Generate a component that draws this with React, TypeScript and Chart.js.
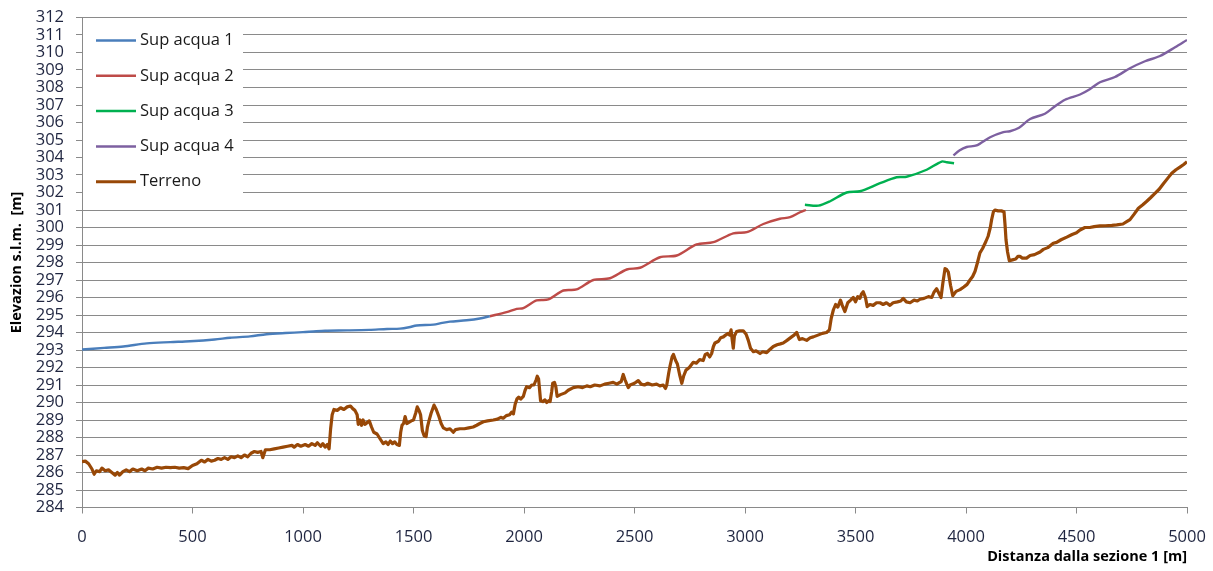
import React, { useEffect, useRef } from "react";
import { Chart, registerables } from "chart.js";

Chart.register(...registerables);

const seriesLabels = ["Sup acqua 1", "Sup acqua 2", "Sup acqua 3", "Sup acqua 4", "Terreno"];
const seriesColors = ["#4a7ebb", "#be4b48", "#00b050", "#7d60a0", "#984807"];

const acqua1X = [0, 100, 187, 293, 400, 489, 600, 670, 760, 835, 920, 1000, 1047, 1100, 1200, 1300, 1380, 1439, 1480, 1514, 1590, 1630, 1665, 1740, 1800, 1845];
const acqua1Y = [293.03, 293.12, 293.2, 293.38, 293.45, 293.5, 293.6, 293.7, 293.78, 293.9, 293.97, 294.02, 294.06, 294.1, 294.12, 294.15, 294.2, 294.22, 294.3, 294.4, 294.45, 294.55, 294.62, 294.7, 294.8, 294.93];

const acqua2X = [1845, 1921, 1967, 1997, 2057, 2110, 2178, 2238, 2314, 2389, 2465, 2525, 2615, 2691, 2781, 2857, 2947, 3008, 3083, 3158, 3204, 3249, 3276];
const acqua2Y = [294.93, 295.16, 295.35, 295.39, 295.83, 295.89, 296.4, 296.46, 297.0, 297.1, 297.6, 297.7, 298.3, 298.4, 299.03, 299.16, 299.67, 299.73, 300.2, 300.5, 300.59, 300.87, 301.0];

const acqua3X = [3271, 3332, 3385, 3460, 3520, 3611, 3686, 3731, 3822, 3890, 3913, 3946];
const acqua3Y = [301.3, 301.25, 301.5, 302.0, 302.07, 302.53, 302.87, 302.9, 303.3, 303.77, 303.73, 303.67];

const acqua4X = [3943, 3970, 4003, 4048, 4109, 4169, 4199, 4240, 4290, 4357, 4400, 4448, 4516, 4560, 4606, 4674, 4742, 4810, 4878, 4946, 5000];
const acqua4Y = [304.12, 304.4, 304.6, 304.69, 305.16, 305.45, 305.5, 305.7, 306.2, 306.5, 306.9, 307.3, 307.6, 307.9, 308.3, 308.6, 309.1, 309.5, 309.8, 310.3, 310.72];

const terrenoX = [0, 15, 30, 45, 55, 65, 80, 90, 105, 120, 135, 150, 160, 170, 185, 200, 215, 230, 250, 270, 285, 300, 320, 340, 360, 380, 400, 420, 440, 460, 480, 500, 520, 540, 555, 570, 585, 600, 615, 630, 645, 660, 675, 690, 705, 720, 735, 750, 765, 780, 795, 810, 818, 830, 850, 870, 890, 910, 930, 950, 960, 975, 990, 1010, 1025, 1040, 1055, 1065, 1080, 1090, 1100, 1110, 1118, 1125, 1132, 1140, 1155, 1170, 1185, 1200, 1215, 1225, 1235, 1245, 1250, 1258, 1265, 1272, 1280, 1290, 1300, 1310, 1320, 1335, 1350, 1363, 1375, 1385, 1395, 1405, 1415, 1425, 1436, 1442, 1448, 1455, 1462, 1470, 1477, 1490, 1500, 1510, 1517, 1525, 1532, 1540, 1548, 1557, 1563, 1570, 1580, 1593, 1603, 1615, 1625, 1635, 1650, 1665, 1680, 1690, 1710, 1730, 1750, 1770, 1786, 1800, 1816, 1835, 1861, 1880, 1895, 1906, 1920, 1935, 1944, 1952, 1960, 1968, 1976, 1985, 1997, 2005, 2012, 2025, 2035, 2045, 2055, 2060, 2066, 2070, 2075, 2085, 2095, 2103, 2112, 2118, 2125, 2130, 2138, 2144, 2150, 2165, 2186, 2200, 2223, 2245, 2265, 2284, 2300, 2320, 2344, 2365, 2385, 2404, 2420, 2440, 2449, 2457, 2465, 2472, 2480, 2500, 2517, 2530, 2545, 2560, 2580, 2600, 2615, 2630, 2640, 2646, 2655, 2661, 2670, 2676, 2686, 2694, 2704, 2714, 2722, 2733, 2748, 2766, 2780, 2795, 2811, 2820, 2830, 2840, 2849, 2857, 2864, 2880, 2890, 2902, 2912, 2924, 2930, 2937, 2942, 2947, 2952, 2962, 2975, 2992, 3005, 3015, 3025, 3038, 3050, 3068, 3080, 3098, 3110, 3128, 3145, 3160, 3173, 3190, 3211, 3222, 3234, 3240, 3246, 3260, 3279, 3295, 3309, 3330, 3350, 3369, 3382, 3390, 3400, 3410, 3420, 3432, 3440, 3452, 3465, 3478, 3490, 3500, 3510, 3520, 3527, 3535, 3545, 3553, 3565, 3580, 3595, 3611, 3625, 3640, 3656, 3670, 3690, 3705, 3716, 3730, 3747, 3765, 3780, 3792, 3810, 3830, 3845, 3855, 3867, 3875, 3887, 3895, 3905, 3912, 3920, 3930, 3940, 3955, 3973, 3990, 4005, 4018, 4030, 4041, 4052, 4063, 4075, 4090, 4100, 4110, 4116, 4124, 4131, 4145, 4160, 4172, 4177, 4181, 4188, 4196, 4210, 4225, 4235, 4244, 4255, 4274, 4290, 4310, 4335, 4350, 4370, 4395, 4410, 4430, 4456, 4480, 4500, 4516, 4538, 4560, 4580, 4606, 4630, 4660, 4682, 4710, 4727, 4742, 4760, 4780, 4800, 4818, 4835, 4855, 4875, 4893, 4915, 4931, 4950, 4968, 4985, 5000];
const terrenoY = [286.62, 286.65, 286.5, 286.2, 285.9, 286.1, 286.05, 286.25, 286.1, 286.15, 286.0, 285.85, 286.0, 285.85, 286.05, 286.15, 286.05, 286.2, 286.1, 286.2, 286.1, 286.25, 286.2, 286.3, 286.25, 286.3, 286.28, 286.3, 286.25, 286.28, 286.22, 286.4, 286.5, 286.7, 286.6, 286.75, 286.65, 286.7, 286.8, 286.75, 286.85, 286.75, 286.9, 286.85, 286.95, 286.85, 287.0, 286.9, 287.1, 287.2, 287.15, 287.2, 286.85, 287.3, 287.3, 287.35, 287.4, 287.45, 287.5, 287.55, 287.45, 287.6, 287.5, 287.6, 287.5, 287.65, 287.55, 287.7, 287.5, 287.65, 287.45, 287.6, 287.35, 288.5, 289.3, 289.6, 289.55, 289.7, 289.6, 289.75, 289.8, 289.65, 289.55, 289.3, 288.75, 289.0, 288.7, 289.0, 288.75, 288.85, 288.95, 288.6, 288.3, 288.2, 287.9, 287.65, 287.75, 287.6, 287.8, 287.65, 287.75, 287.6, 287.55, 288.3, 288.7, 288.8, 289.2, 288.8, 288.85, 288.95, 289.0, 289.4, 289.75, 289.55, 289.3, 288.4, 288.1, 288.05, 288.6, 288.95, 289.4, 289.85, 289.6, 289.2, 288.8, 288.55, 288.45, 288.5, 288.3, 288.45, 288.5, 288.5, 288.55, 288.6, 288.7, 288.8, 288.9, 288.95, 289.0, 289.05, 289.15, 289.1, 289.25, 289.3, 289.45, 289.35, 289.9, 290.2, 290.3, 290.2, 290.35, 290.7, 290.9, 290.85, 291.0, 291.0, 291.3, 291.5, 291.35, 290.8, 290.1, 290.05, 290.15, 290.0, 290.1, 290.05, 290.6, 291.1, 291.15, 290.9, 290.35, 290.45, 290.55, 290.7, 290.85, 290.9, 290.85, 290.95, 290.9, 291.0, 290.95, 291.05, 291.1, 291.15, 291.05, 291.2, 291.6, 291.3, 291.05, 290.85, 291.0, 291.1, 291.25, 291.05, 291.0, 291.1, 291.0, 291.05, 290.95, 291.0, 290.8, 291.0, 291.7, 292.1, 292.6, 292.75, 292.4, 292.2, 291.6, 291.1, 291.5, 291.85, 292.0, 292.3, 292.25, 292.45, 292.4, 292.75, 292.8, 292.6, 292.8, 293.2, 293.4, 293.5, 293.7, 293.75, 293.85, 293.95, 293.85, 294.15, 293.6, 293.1, 293.8, 294.05, 294.1, 294.1, 293.9, 293.55, 293.1, 292.9, 292.95, 292.8, 292.9, 292.85, 293.0, 293.2, 293.3, 293.35, 293.4, 293.55, 293.75, 293.85, 294.0, 293.8, 293.6, 293.65, 293.55, 293.7, 293.75, 293.85, 293.95, 294.0, 294.15, 294.8, 295.3, 295.6, 295.45, 295.85, 295.55, 295.2, 295.7, 295.85, 296.0, 295.75, 296.05, 295.95, 296.2, 296.33, 296.0, 295.48, 295.6, 295.55, 295.7, 295.7, 295.6, 295.7, 295.55, 295.7, 295.75, 295.8, 295.95, 295.75, 295.7, 295.85, 295.8, 295.9, 295.95, 296.05, 296.0, 296.3, 296.5, 296.3, 296.0, 296.8, 297.65, 297.6, 297.45, 296.7, 296.1, 296.35, 296.45, 296.6, 296.75, 297.0, 297.2, 297.5, 298.0, 298.55, 298.8, 299.2, 299.5, 300.0, 300.45, 300.9, 301.0, 300.95, 300.95, 300.9, 300.1, 299.3, 298.6, 298.1, 298.15, 298.2, 298.35, 298.35, 298.25, 298.25, 298.4, 298.45, 298.6, 298.75, 298.85, 299.1, 299.15, 299.3, 299.45, 299.6, 299.7, 299.86, 300.0, 300.0, 300.05, 300.09, 300.1, 300.12, 300.15, 300.2, 300.33, 300.45, 300.75, 301.1, 301.3, 301.5, 301.7, 301.95, 302.2, 302.5, 302.85, 303.1, 303.3, 303.45, 303.6, 303.76];

const xMin = 0;
const xMax = 5000;
const xStep = 500;
const yMin = 284;
const yMax = 312;
const yStep = 1;

const xTitle = "Distanza dalla sezione 1 [m]";
const yTitle = "Elevazion s.l.m.  [m]";

const FONT = '"Open Sans", "DejaVu Sans", sans-serif';

function pts(xs: number[], ys: number[]) {
  return xs.map((x, i) => ({ x, y: ys[i] }));
}

const insideLegend = {
  id: "insideLegend",
  afterDraw(chart: any) {
    const { ctx, chartArea } = chart;
    ctx.save();
    ctx.fillStyle = "#ffffff";
    ctx.fillRect(chartArea.left + 1, chartArea.top + 1.5, 160, 181);
    ctx.font = `16.5px ${FONT}`;
    ctx.textBaseline = "middle";
    ctx.textAlign = "left";
    chart.data.datasets.forEach((ds: any, i: number) => {
      const y = chartArea.top + 23 + i * 35.3;
      ctx.strokeStyle = ds.borderColor;
      ctx.lineWidth = i === 4 ? 3 : 2.5;
      ctx.lineCap = "butt";
      ctx.beginPath();
      ctx.moveTo(chartArea.left + 14, y);
      ctx.lineTo(chartArea.left + 54, y);
      ctx.stroke();
      ctx.fillStyle = "#1a1a1a";
      ctx.fillText(ds.label, chartArea.left + 58, y);
    });
    ctx.restore();
  },
};

export default function App() {
  const ref = useRef<HTMLCanvasElement>(null);

  useEffect(() => {
    document.body.style.margin = "0";
    const canvas = ref.current;
    if (!canvas) return;
    const data = [
      pts(acqua1X, acqua1Y),
      pts(acqua2X, acqua2Y),
      pts(acqua3X, acqua3Y),
      pts(acqua4X, acqua4Y),
      pts(terrenoX, terrenoY),
    ];
    const chart = new Chart(canvas, {
      type: "line",
      data: {
        datasets: data.map((d, i) => ({
          label: seriesLabels[i],
          data: d,
          borderColor: seriesColors[i],
          backgroundColor: seriesColors[i],
          borderWidth: i === 4 ? 3.2 : 2.4,
          pointRadius: 0,
          tension: i === 4 ? 0 : 0.3,
          fill: false,
          borderJoinStyle: "round",
        })),
      },
      options: {
        animation: false,
        responsive: false,
        devicePixelRatio: 1,
        layout: { padding: { top: 17.5, right: 26, bottom: 0, left: 0 } },
        plugins: {
          legend: { display: false },
          tooltip: { enabled: false },
        },
        scales: {
          x: {
            type: "linear",
            min: xMin,
            max: xMax,
            afterFit: (s: any) => {
              s.height = 63.5;
              s.paddingLeft = 0;
              s.paddingRight = 0;
            },
            ticks: {
              stepSize: xStep,
              color: "#1f2540",
              font: { family: FONT, size: 16.5 },
              padding: 14,
              maxRotation: 0,
              callback: (v: any) => String(v),
            },
            grid: {
              drawOnChartArea: false,
              drawTicks: true,
              tickLength: 6,
              color: "#8a8a8a",
            },
            border: { color: "#8a8a8a", width: 1 },
            title: {
              display: true,
              text: xTitle,
              align: "end",
              color: "#000000",
              font: { family: FONT, size: 14.5, weight: "bold" },
              padding: { top: 0, bottom: 5 },
            },
          },
          y: {
            type: "linear",
            min: yMin,
            max: yMax,
            afterFit: (s: any) => {
              s.width = 82;
              s.paddingTop = 0;
              s.paddingBottom = 0;
            },
            ticks: {
              stepSize: yStep,
              color: "#1f2540",
              font: { family: FONT, size: 16.5 },
              padding: 12,
              autoSkip: false,
              callback: (v: any) => String(v),
            },
            grid: {
              drawOnChartArea: true,
              drawTicks: true,
              tickLength: 6,
              color: "#8a8a8a",
              lineWidth: 1,
            },
            border: { color: "#8a8a8a", width: 1 },
            title: {
              display: true,
              text: yTitle,
              align: "center",
              color: "#000000",
              font: { family: FONT, size: 14.5, weight: "bold" },
              padding: { top: 8, bottom: 0 },
            },
          },
        },
      },
      plugins: [insideLegend],
    } as any);
    return () => chart.destroy();
  }, []);

  return (
    <div style={{ width: 1213, height: 571, background: "#ffffff" }}>
      <canvas ref={ref} width={1213} height={571} style={{ display: "block" }} />
    </div>
  );
}
